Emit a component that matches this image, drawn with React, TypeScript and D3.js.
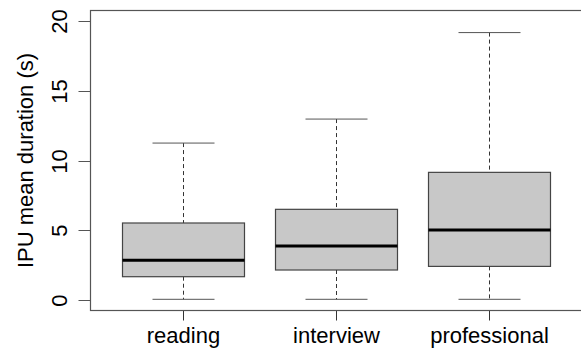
import * as d3 from "d3";
import React from "react";

const categories = ["reading", "interview", "professional"];
const lowerWhisker = [0.05, 0.05, 0.05];
const q1 = [1.67, 2.15, 2.41];
const median = [2.85, 3.87, 5.02];
const q3 = [5.52, 6.5, 9.15];
const upperWhisker = [11.25, 12.97, 19.17];
const yTicks = [0, 5, 10, 15, 20];

const W = 581;
const H = 351;
const left = 90.5;
const right = 584;
const top = 10.5;
const bottom = 310.5;

export default function App() {
    const y = d3.scaleLinear().domain([0, 20]).range([300, 21]);
    // R-style band: boxes at 1..n, xlim 0.5..n+0.5
    const x = d3.scaleLinear().domain([0.5, 3.5]).range([107, 565]);
    const boxHalf = 61;
    const capHalf = 31;

    return (
        <svg width={W} height={H} style={{ position: "absolute", left: 0, top: 0 }}
            fontFamily="Liberation Sans, Arial, sans-serif">
            <rect x={0} y={0} width={W} height={H} fill="#fff" />
            {categories.map((c, i) => {
                const cx = Math.round(x(i + 1)) + 0.5;
                return (
                    <g key={c}>
                        <line x1={cx} x2={cx} y1={y(upperWhisker[i])} y2={y(q3[i])}
                            stroke="#333" strokeDasharray="4,3" />
                        <line x1={cx} x2={cx} y1={y(q1[i])} y2={y(lowerWhisker[i])}
                            stroke="#333" strokeDasharray="4,3" />
                        <line x1={cx - capHalf} x2={cx + capHalf} y1={y(upperWhisker[i])} y2={y(upperWhisker[i])}
                            stroke="#555" />
                        <line x1={cx - capHalf} x2={cx + capHalf} y1={y(lowerWhisker[i])} y2={y(lowerWhisker[i])}
                            stroke="#555" />
                        <rect x={cx - boxHalf} y={y(q3[i])} width={boxHalf * 2} height={y(q1[i]) - y(q3[i])}
                            fill="#c8c8c8" stroke="#444" strokeWidth={1.2} />
                        <line x1={cx - boxHalf} x2={cx + boxHalf} y1={y(median[i])} y2={y(median[i])}
                            stroke="#000" strokeWidth={3} />
                        <line x1={cx} x2={cx} y1={bottom} y2={bottom + 10} stroke="#333" />
                        <text x={cx} y={343} textAnchor="middle" fontSize={22} fill="#000">{c}</text>
                    </g>
                );
            })}
            <rect x={left} y={top} width={right - left} height={bottom - top} fill="none" stroke="#555" strokeWidth={1.2} />
            <line x1={left} x2={left} y1={y(0)} y2={y(20)} stroke="#555" />
            {yTicks.map(t => (
                <g key={t} transform={`translate(0,${Math.round(y(t)) + 0.5})`}>
                    <line x1={left - 12} x2={left} stroke="#555" />
                    <text transform="translate(67,0) rotate(-90)" textAnchor="middle" fontSize={22} fill="#000">{t}</text>
                </g>
            ))}
            <text transform={`translate(33,${(top + bottom) / 2}) rotate(-90)`} textAnchor="middle"
                fontSize={22} fill="#000">IPU mean duration (s)</text>
        </svg>
    );
}
